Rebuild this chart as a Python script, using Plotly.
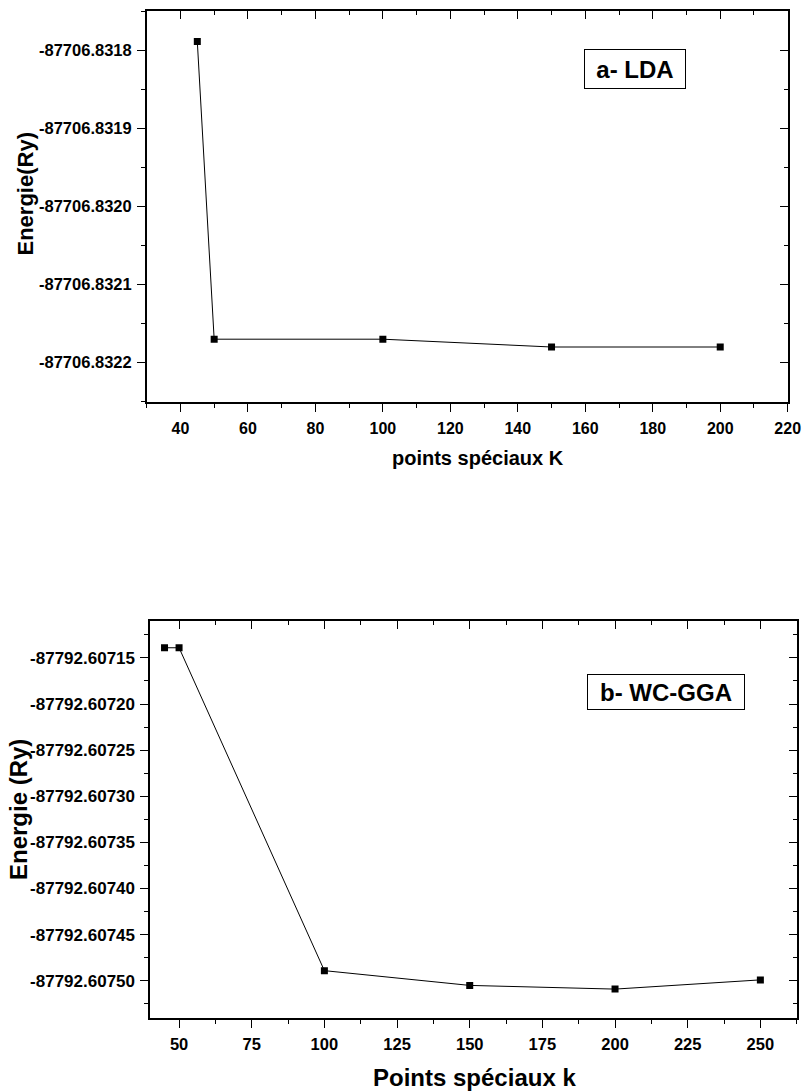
import plotly.graph_objects as go

W, H = 804, 1091

# ---------------- data ----------------
k_lda = [45, 50, 100, 150, 200]
e_lda = [-87706.831789, -87706.83217, -87706.83217, -87706.83218, -87706.83218]

k_gga = [45, 50, 100, 150, 200, 250]
e_gga = [-87792.607139, -87792.607139, -87792.607489, -87792.607505, -87792.607509, -87792.607499]

top_xticks = [40, 60, 80, 100, 120, 140, 160, 180, 200, 220]
top_xtext = ["40", "60", "80", "100", "120", "140", "160", "180", "200", "220"]
top_yticks = [-87706.8318, -87706.8319, -87706.8320, -87706.8321, -87706.8322]
top_ytext = ["-87706.8318", "-87706.8319", "-87706.8320", "-87706.8321", "-87706.8322"]

bot_xticks = [50, 75, 100, 125, 150, 175, 200, 225, 250]
bot_xtext = ["50", "75", "100", "125", "150", "175", "200", "225", "250"]
bot_yticks = [-87792.60715, -87792.60720, -87792.60725, -87792.60730,
              -87792.60735, -87792.60740, -87792.60745, -87792.60750]
bot_ytext = ["-87792.60715", "-87792.60720", "-87792.60725", "-87792.60730",
             "-87792.60735", "-87792.60740", "-87792.60745", "-87792.60750"]


def bold(labels):
    return ["<b>%s</b>" % t for t in labels]


def px(x):
    return x / W


def py(y):
    return 1 - y / H


# plot-area pixel boxes
TOP = dict(l=146.7, r=787.7, t=11, b=401.7)
BOT = dict(l=150, r=796.7, t=621, b=1017.7)

top_xrange = [30, 220]
top_yrange = [-87706.83225, -87706.83175]
bot_xrange = [40, 262.5]
bot_yrange = [-87792.60754, -87792.60711]

FONT = "Liberation Sans"

fig = go.Figure()

line_style = dict(color="black", width=1)
marker_style = dict(symbol="square", size=7, color="black")

fig.add_trace(go.Scatter(x=k_lda, y=e_lda, mode="lines+markers", line=line_style,
                         marker=marker_style, xaxis="x", yaxis="y", showlegend=False))
fig.add_trace(go.Scatter(x=k_gga, y=e_gga, mode="lines+markers", line=line_style,
                         marker=marker_style, xaxis="x2", yaxis="y2", showlegend=False))
# invisible traces to attach the helper axes (mirrored inward ticks, y labels)
for xa, ya, xs, ys in [("x3", "y", k_lda, e_lda), ("x", "y3", k_lda, e_lda), ("x", "y5", k_lda, e_lda),
                       ("x4", "y2", k_gga, e_gga), ("x2", "y4", k_gga, e_gga), ("x2", "y6", k_gga, e_gga)]:
    fig.add_trace(go.Scatter(x=xs, y=ys, mode="markers", marker=dict(opacity=0),
                             xaxis=xa, yaxis=ya, showlegend=False, hoverinfo="skip"))

base_axis = dict(showgrid=False, zeroline=False, showline=True, linecolor="black",
                 linewidth=1.6, mirror=True, ticks="outside", ticklen=8, tickwidth=1.4,
                 tickcolor="black", automargin=False)

minor_out = dict(ticks="outside", ticklen=4, tickwidth=1.4, tickcolor="black", tickmode="linear")
minor_in = dict(ticks="inside", ticklen=4, tickwidth=1.4, tickcolor="black", tickmode="linear")
mirror_axis = dict(showgrid=False, zeroline=False, showline=False, showticklabels=False,
                   ticks="inside", ticklen=8, tickwidth=1.4, tickcolor="black", tickmode="array")
label_axis = dict(showgrid=False, zeroline=False, showline=False, showticklabels=True,
                  ticks="", tickmode="array", automargin=False, ticklabelstandoff=14)

fig.update_layout(
    width=W, height=H,
    margin=dict(l=0, r=0, t=0, b=0),
    paper_bgcolor="white", plot_bgcolor="white",
    showlegend=False,
    xaxis=dict(base_axis, domain=[px(TOP["l"]), px(TOP["r"])], anchor="y",
               range=top_xrange, tickmode="array", tickvals=top_xticks, ticktext=bold(top_xtext),
               tickfont=dict(family=FONT, size=16, color="black"), ticklabelstandoff=3,
               minor=dict(minor_out, tick0=30, dtick=10)),
    yaxis=dict(base_axis, domain=[py(TOP["b"]), py(TOP["t"])], anchor="x",
               range=top_yrange, tickmode="array", tickvals=top_yticks, showticklabels=False,
               minor=dict(minor_out, tick0=top_yrange[0], dtick=0.00005)),
    yaxis5=dict(label_axis, overlaying="y", side="left", anchor="x", range=top_yrange,
                tickvals=top_yticks, ticktext=bold(top_ytext),
                tickfont=dict(family=FONT, size=16.5, color="black")),
    xaxis3=dict(mirror_axis, overlaying="x", side="top", anchor="y", range=top_xrange,
                tickvals=top_xticks, minor=dict(minor_in, tick0=30, dtick=10)),
    yaxis3=dict(mirror_axis, overlaying="y", side="right", anchor="x", range=top_yrange,
                tickvals=top_yticks, minor=dict(minor_in, tick0=top_yrange[0], dtick=0.00005)),
    xaxis2=dict(base_axis, domain=[px(BOT["l"]), px(BOT["r"])], anchor="y2",
                range=bot_xrange, tickmode="array", tickvals=bot_xticks, ticktext=bold(bot_xtext),
                tickfont=dict(family=FONT, size=16.5, color="black"), ticklabelstandoff=3,
                minor=dict(minor_out, tick0=37.5, dtick=12.5)),
    yaxis2=dict(base_axis, domain=[py(BOT["b"]), py(BOT["t"])], anchor="x2",
                range=bot_yrange, tickmode="array", tickvals=bot_yticks, showticklabels=False,
                minor=dict(minor_out, tick0=-87792.607525, dtick=0.00005)),
    yaxis6=dict(label_axis, overlaying="y2", side="left", anchor="x2", range=bot_yrange,
                tickvals=bot_yticks, ticktext=bold(bot_ytext),
                tickfont=dict(family=FONT, size=17, color="black")),
    xaxis4=dict(mirror_axis, overlaying="x2", side="top", anchor="y2", range=bot_xrange,
                tickvals=bot_xticks, minor=dict(minor_in, tick0=37.5, dtick=12.5)),
    yaxis4=dict(mirror_axis, overlaying="y2", side="right", anchor="x2", range=bot_yrange,
                tickvals=bot_yticks, minor=dict(minor_in, tick0=-87792.607525, dtick=0.00005)),
)

anns = [
    # axis titles
    dict(text="<b>Energie(Ry)</b>", x=px(25), y=py(194.5), textangle=-90,
         font=dict(family=FONT, size=22, color="black")),
    dict(text="<b>points spéciaux K</b>", x=px(478), y=py(458),
         font=dict(family=FONT, size=20, color="black")),
    dict(text="<b>Energie (Ry)</b>", x=px(18), y=py(810), textangle=-90,
         font=dict(family=FONT, size=24, color="black")),
    dict(text="<b>Points spéciaux k</b>", x=px(474), y=py(1077),
         font=dict(family=FONT, size=24, color="black")),
    # panel labels
    dict(text="<b>a- LDA</b>", x=px(635), y=py(69), width=98, height=36, borderpad=1,
         bordercolor="black", borderwidth=1, bgcolor="white",
         font=dict(family=FONT, size=24, color="black")),
    dict(text="<b>b- WC-GGA</b>", x=px(666), y=py(692), width=154, height=32, borderpad=1,
         bordercolor="black", borderwidth=1, bgcolor="white",
         font=dict(family=FONT, size=24, color="black")),
]
for a in anns:
    a.update(xref="paper", yref="paper", showarrow=False, xanchor="center", yanchor="middle")
fig.update_layout(annotations=anns)

fig.write_html("out.html")
